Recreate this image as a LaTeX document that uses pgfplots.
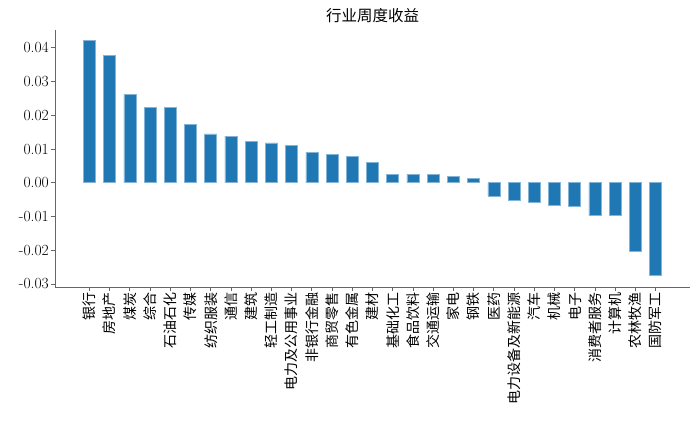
\documentclass[border=0pt]{standalone}
\usepackage{fontspec}
\newfontfamily\cjk{Noto Sans CJK SC}
\usepackage{pgfplots}
\pgfplotsset{compat=1.18}
\definecolor{mplblue}{HTML}{1F77B4}
\begin{document}
\begin{tikzpicture}
\path[use as bounding box] (-55pt,-133pt) rectangle (645pt,287pt);
\begin{axis}[
  at={(0,0)}, anchor=south west,
  scale only axis,
  width=635pt, height=257pt,
  xmin=-1.7, xmax=29.7,
  ymin=-0.0309, ymax=0.0453,
  axis x line*=bottom, axis y line*=left,
  axis line style={gray!80!black, line width=0.8pt},
  xtick=data,
  xticklabels={银行,房地产,煤炭,综合,石油石化,传媒,纺织服装,通信,建筑,轻工制造,电力及公用事业,非银行金融,商贸零售,有色金属,建材,基础化工,食品饮料,交通运输,家电,钢铁,医药,电力设备及新能源,汽车,机械,电子,消费者服务,计算机,农林牧渔,国防军工},
  xticklabel style={rotate=90, anchor=east, font=\cjk\fontsize{14}{15}\selectfont, inner sep=1pt},
  scaled y ticks=false,
  ytick={-0.03,-0.02,-0.01,0,0.01,0.02,0.03,0.04},
  yticklabels={-0.03,-0.02,-0.01,0.00,0.01,0.02,0.03,0.04},
  yticklabel style={font=\fontsize{15.5}{17}\selectfont, inner sep=2pt},
  tick align=outside,
  major tick length=4pt,
  tick style={gray!80!black, line width=0.8pt},
  title={\cjk\fontsize{15.5}{18}\selectfont 行业周度收益},
  title style={yshift=-2pt},
  ybar, bar width=12pt,
  clip=false,
]
\addplot[fill=mplblue, draw=mplblue!55!white, line width=0.6pt] coordinates {
(0,0.0423) (1,0.0378) (2,0.0263) (3,0.0224) (4,0.0224) (5,0.0172) (6,0.0145) (7,0.0138) (8,0.0123) (9,0.0118)
(10,0.0110) (11,0.0090) (12,0.0085) (13,0.0078) (14,0.0061) (15,0.0026) (16,0.0026) (17,0.0025) (18,0.0020) (19,0.0014)
(20,-0.0039) (21,-0.0053) (22,-0.0057) (23,-0.0066) (24,-0.0070) (25,-0.0097) (26,-0.0097) (27,-0.0202) (28,-0.0274)
};
\end{axis}
\end{tikzpicture}
\end{document}
